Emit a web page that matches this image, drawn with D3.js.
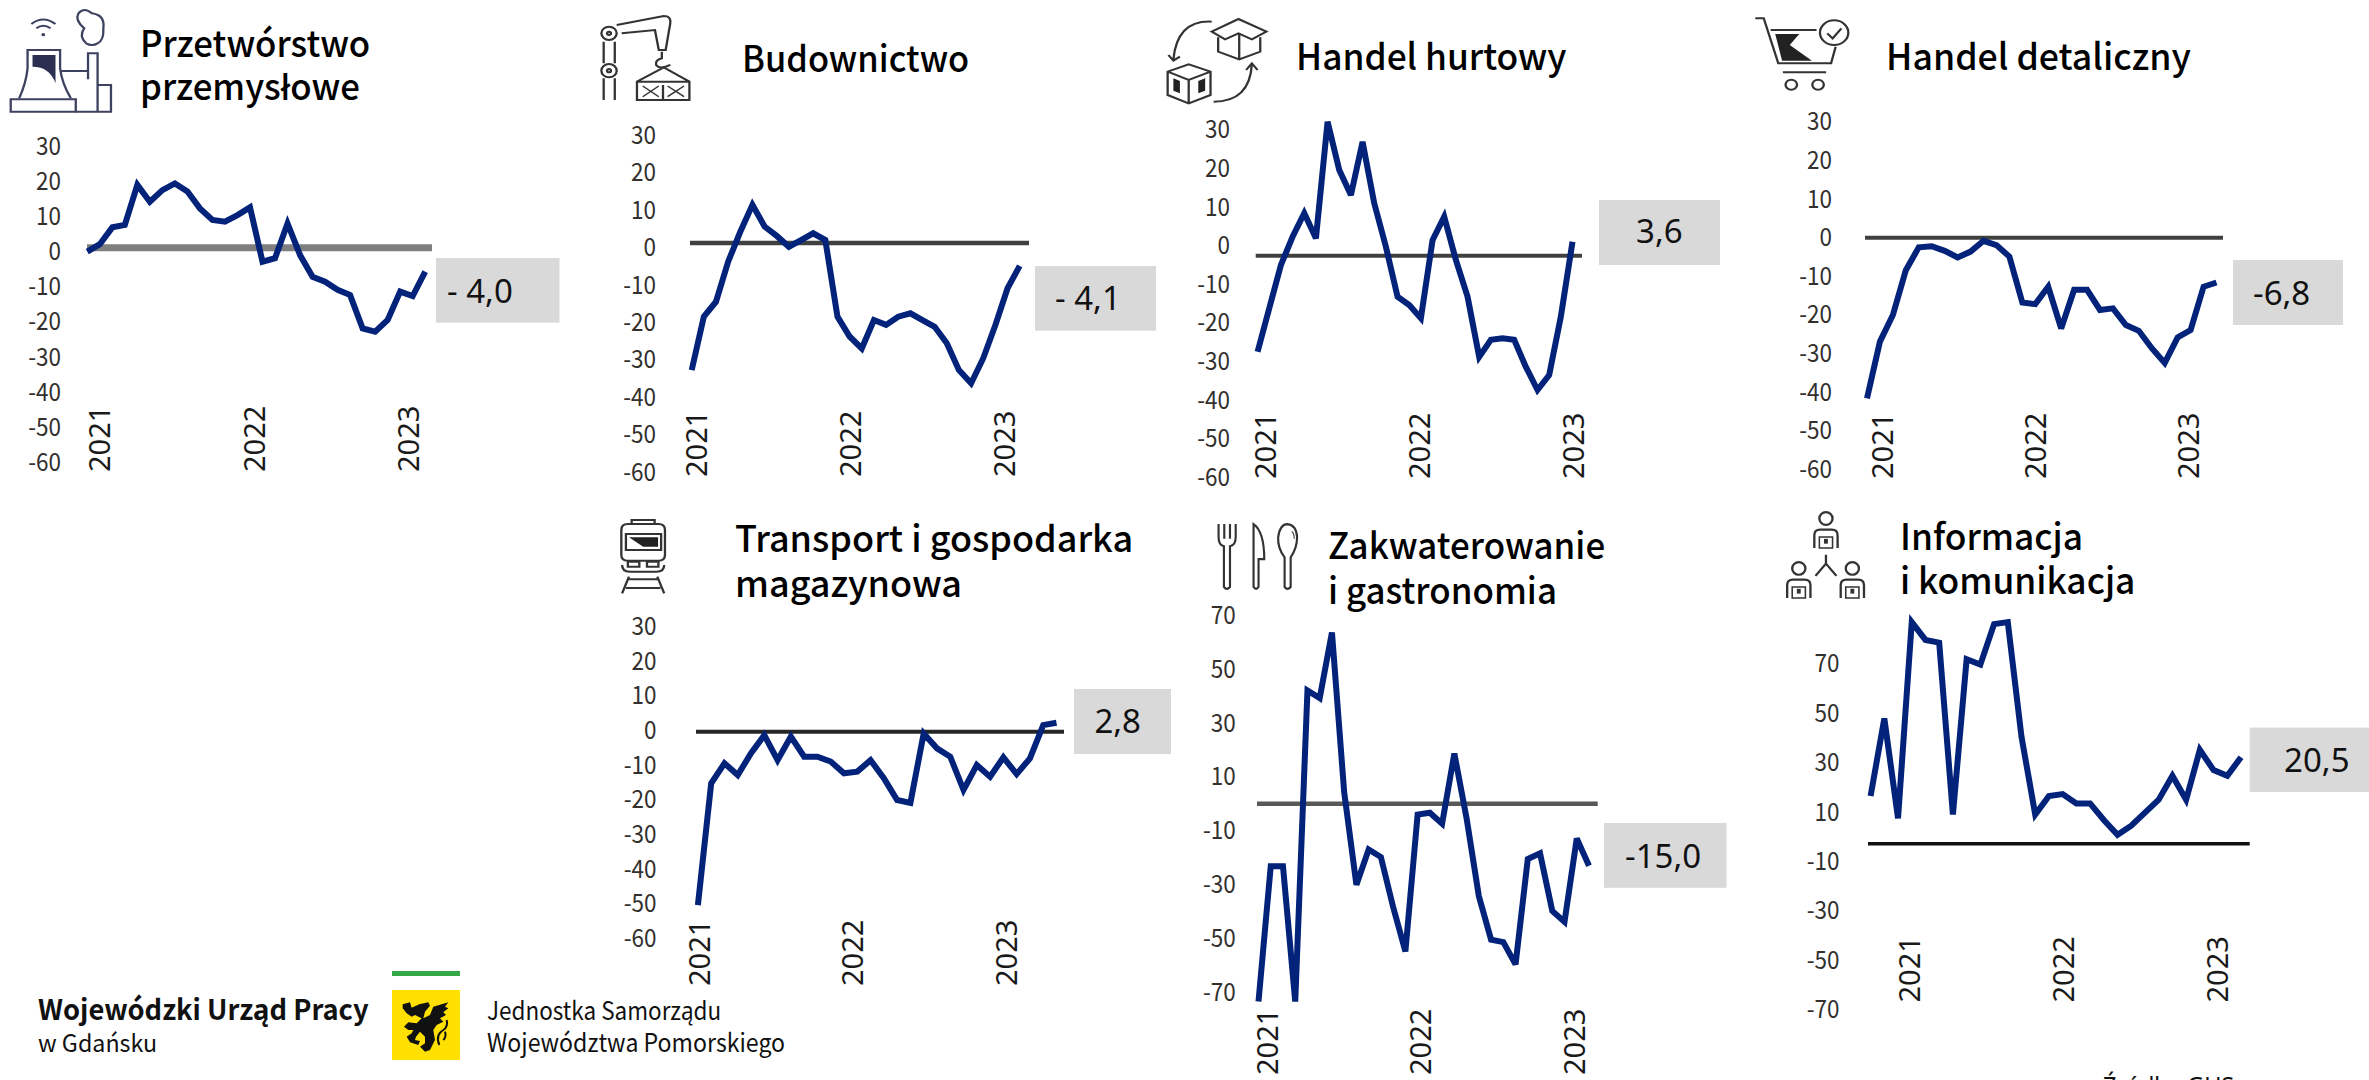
<!DOCTYPE html>
<html lang="pl"><head><meta charset="utf-8">
<script src="https://cdn.jsdelivr.net/npm/d3@7/dist/d3.min.js"></script>
<style>html,body{margin:0;padding:0;background:#fff;overflow:hidden}svg{display:block}</style>
</head><body><svg id="c" width="2369" height="1080"></svg>
<script>
const months = d3.range(28).map(i => { const y = 2021 + Math.floor(i/12), m = i%12 + 1; return y + "-" + String(m).padStart(2,"0"); });
const years = ["2021","2022","2023"];
const ticksA = [30,20,10,0,-10,-20,-30,-40,-50,-60];
const ticksB = [70,50,30,10,-10,-30,-50,-70];

const przetworstwo = [-1.1,1,5.8,6.5,17.9,13.1,16.4,18.3,16,11.2,7.9,7.4,9.3,11.5,-4,-3,6.9,-2.1,-8.3,-9.7,-12,-13.5,-23,-23.9,-20.6,-12.5,-13.8,-6.8];
const budownictwo = [-34,-19.7,-15.7,-5,3,10.2,4.4,1.9,-1,0.8,2.6,0.8,-19.7,-25,-28.2,-20.6,-21.9,-19.7,-18.8,-20.6,-22.4,-26.8,-34,-37.5,-30.8,-21.9,-12.1,-6.1];
const hurtowy = [-24.9,-13.6,-2.4,4.9,11,4.5,34.7,22.2,15.7,29.5,13.6,2.3,-10.6,-12.8,-16.2,4,10.1,-1.1,-10.6,-26.2,-21.8,-21.4,-21.8,-28.8,-34.8,-30.9,-15.8,3.6];
const detaliczny = [-41.6,-26.9,-20,-8.4,-2.5,-2.2,-3.4,-5.1,-3.6,-0.8,-1.9,-4.9,-16.8,-17.2,-12.7,-23.5,-13.5,-13.5,-18.7,-18.3,-22.6,-24.1,-28.6,-32.4,-25.8,-23.9,-12.7,-11.6];
const transport = [-50,-14.9,-9.1,-12.5,-6.2,-1,-8.2,-1.4,-7.2,-7.2,-8.6,-12,-11.5,-8.2,-13.4,-19.7,-20.5,-0.5,-4.8,-7.2,-16.8,-9.6,-13,-7.4,-12.2,-7.7,1.9,2.6];
const zakwaterowanie = [-73.5,-23.2,-23.2,-73.5,42.1,39.3,63.7,4.3,-30.1,-17,-19.8,-38.4,-54.9,-4,-3.3,-7.4,18.7,-5.4,-34.3,-50.5,-51.4,-59.7,-20.5,-18.4,-39.8,-43.9,-12.9,-23];
const informacja = [19.3,50.7,10.3,89.7,82.5,81.4,11.8,74.7,72.5,88.9,89.7,43.3,11.8,19.3,20.1,16.3,16.3,9.6,3.6,7.3,12.6,17.8,27.5,17.8,38,29.8,27.5,35];

const panels = [
 {title:["Przetwórstwo","przemysłowe"],tx:140,tb:[57,100],tsx:.967,values:przetworstwo,ticks:ticksA,label:"- 4,0",
  line:[87.3,425.2],zero:[87,432],y0:247.7,u:3.51,zw:7,zc:"#7f7f7f",tr:61,ts:4,yr:[99.5,407.6],yb:472,box:[436,559.5,258,322.7],lx:447,lb:303,la:"start"},
 {title:["Budownictwo"],tx:742,tb:[72],tsx:.955,values:budownictwo,ticks:ticksA,label:"- 4,1",
  line:[691.7,1019.7],zero:[690,1029],y0:243,u:3.74,zw:4.7,zc:"#404040",tr:656,ts:4.7,yr:[696.3,1004.4],yb:477,box:[1035,1156,266,330.7],lx:1055,lb:310,la:"start"},
 {title:["Handel hurtowy"],tx:1296,tb:[70],tsx:.98,values:hurtowy,ticks:ticksA,label:"3,6",
  line:[1257.6,1572.5],zero:[1255.7,1582],y0:255.7,u:3.86,zw:4,zc:"#404040",tr:1230,ts:-10,yr:[1265.2,1573.3],yb:479,box:[1599,1720,200,265],lx:1659.4,lb:243,la:"middle"},
 {title:["Handel detaliczny"],tx:1886,tb:[70],tsx:.99,values:detaliczny,ticks:ticksA,label:"-6,8",
  line:[1867,2216.5],zero:[1865,2223],y0:237.7,u:3.863,zw:4,zc:"#404040",tr:1832,ts:0,yr:[1881.6,2188.5],yb:479,box:[2233,2343,260,325],lx:2253,lb:305,la:"start"},
 {title:["Transport i gospodarka","magazynowa"],tx:735,tb:[552,597],tsx:1,values:transport,ticks:ticksA,label:"2,8",
  line:[697.9,1056.5],zero:[696,1064],y0:731.7,u:3.47,zw:4,zc:"#262626",tr:656.5,ts:-1.3,yr:[699.4,1005.6],yb:986,box:[1074,1171,689,754],lx:1117.7,lb:733,la:"middle"},
 {title:["Zakwaterowanie","i gastronomia"],tx:1328,tb:[559,604],tsx:.97,values:zakwaterowanie,ticks:ticksB,label:"-15,0",
  line:[1258.5,1589],zero:[1257,1597.7],y0:803.8,u:2.69,zw:4.4,zc:"#595959",tr:1235.7,ts:0,yr:[1266.8,1573.8],yb:1075,box:[1604,1726.6,823,887.8],lx:1625,lb:868,la:"start"},
 {title:["Informacja","i komunikacja"],tx:1900,tb:[550,594],tsx:.98,values:informacja,ticks:ticksB,label:"20,5",
  line:[1870.6,2241],zero:[1868,2249.7],y0:843.7,u:2.47,zw:3.5,zc:"#111",tr:1839.5,ts:-7,yr:[1909.4,2217],yb:1002.5,box:[2249.7,2369,727.6,792],lx:2316.8,lb:772,la:"middle"}
];

const SANS = "'Noto Sans CJK SC','Noto Sans',sans-serif";
const OPEN = "'Noto Sans','Open Sans',sans-serif";
const svg = d3.select("#c");

panels.forEach(p => {
  const g = svg.append("g");
  const x = d3.scalePoint(months, p.line);
  const y = d3.scaleLinear([0,1],[p.y0,p.y0-p.u]);
  const xYears = d3.scalePoint(years, p.yr);

  g.append("rect").attr("x",p.box[0]).attr("y",p.box[2]).attr("width",p.box[1]-p.box[0]).attr("height",p.box[3]-p.box[2]).attr("fill","#d9d9d9");
  g.append("text").attr("x",p.lx).attr("y",p.lb).attr("text-anchor",p.la).attr("font-family",OPEN).attr("font-size",33).attr("fill","#111").text(p.label);

  g.append("line").attr("x1",p.zero[0]).attr("x2",p.zero[1]).attr("y1",y(0)).attr("y2",y(0)).attr("stroke",p.zc).attr("stroke-width",p.zw);

  const ya = g.append("g").attr("transform",`translate(${p.tr},${p.ts})`)
    .call(d3.axisLeft(y).tickValues(p.ticks).tickSize(0).tickPadding(0).tickFormat(d => String(d)));
  ya.select(".domain").remove();
  ya.selectAll("text").attr("font-family",SANS).attr("font-size",25).attr("fill","#33302e").attr("transform","scale(.9,1)");

  const xa = g.append("g").attr("transform",`translate(0,${p.yb})`)
    .call(d3.axisBottom(xYears).tickSize(0).tickPadding(0));
  xa.select(".domain").remove();
  xa.selectAll("text").attr("font-family",OPEN).attr("font-size",29).attr("fill","#1a1a1a")
    .attr("transform","rotate(-90)").attr("x",0).attr("y",0).attr("dy",".36em").attr("text-anchor","start");

  g.append("path").datum(p.values).attr("fill","none").attr("stroke","#03237b").attr("stroke-width",6).attr("stroke-linejoin","miter").attr("stroke-miterlimit",3)
    .attr("d", d3.line().x((d,i)=>x(months[i])).y(d=>y(d)));

  p.title.forEach((t,i)=> g.append("text").attr("transform",`translate(${p.tx},${p.tb[i]}) scale(${p.tsx},1)`).attr("font-family",SANS).attr("font-weight",500).attr("font-size",36).attr("fill","#000").text(t));
});

// ikony
function icon(ox,oy,sx,sy,draw){
  const g = svg.append("g").attr("transform",`translate(${ox},${oy}) scale(${sx},${sy})`)
    .attr("fill","none").attr("stroke","#333").attr("stroke-width",6);
  draw(g);
}
const P=(g,d,f)=>{const e=g.append("path").attr("d",d); if(f) e.attr("fill",f).attr("stroke","none"); return e;};
const C=(g,cx,cy,r)=>g.append("ellipse").attr("cx",cx).attr("cy",cy).attr("rx",r).attr("ry",r);

icon(0,0,.3827,.3333,g=>{ g.attr("stroke","#3c4260");
  P(g,"M50,295 Q68,250 72,205 V150 H157 V205 Q162,250 185,295");
  P(g,"M85,165 H145 V250 Q130,200 85,200 Z","#2b2f52");
  P(g,"M28,298 H198 V335 H28 Z");
  P(g,"M230,238 V160 H255 V335 M160,213 H230 M255,255 H290 V335 H198");
  P(g,"M225,130 Q205,110 220,85 Q195,60 205,40 Q220,20 240,40 Q275,45 270,85 Q272,120 255,130 Q240,140 225,130");
  P(g,"M82,72 Q113,45 145,72 M95,85 Q113,70 132,85");
  P(g,"M113,104 m-5,0 a5,5 0 1 0 10,0 a5,5 0 1 0 -10,0","#3c4260");
});
icon(570,0,.3827,.3333,g=>{
  C(g,102,100,20); C(g,102,212,20); C(g,102,100,5); C(g,102,212,5);
  P(g,"M88,125 V190 M117,125 V190 M88,235 V300 M117,235 V300");
  P(g,"M122,75 L245,48 Q265,48 262,70 L250,150 H232 L222,90 L135,100");
  P(g,"M240,155 V175 Q222,180 225,195 Q235,210 262,195");
  P(g,"M175,245 L245,202 L312,245 V300 H175 Z M175,245 H312 M243,255 V300");
  P(g,"M190,258 L232,290 M232,258 L190,290 M255,258 L298,290 M298,258 L255,290").attr("stroke-width",4);
});
icon(1160,0,.3827,.3333,g=>{
  P(g,"M135,95 L205,57 L278,95 L240,118 L205,100 L170,118 Z");
  P(g,"M152,112 V155 L207,178 L262,155 V112 M207,100 V178");
  P(g,"M20,215 L75,193 L132,215 V285 L75,310 L20,285 Z M20,215 L75,240 L132,215 M75,240 V310");
  P(g,"M35,235 L52,243 V280 L35,272 Z M100,243 L118,235 V272 L100,280 Z","#222");
  P(g,"M135,65 Q45,60 35,178 M22,165 L35,182 L52,170");
  P(g,"M140,305 Q235,305 240,192 M225,210 L240,190 L255,210");
});
icon(1740,0,.3827,.3333,g=>{
  P(g,"M40,55 H62 L100,190 H238 L250,140");
  P(g,"M80,90 H200");
  P(g,"M92,102 H155 L130,135 L188,182 H110 Z","#222");
  P(g,"M112,217 H225");
  C(g,134,254,15); C(g,204,254,15); C(g,246,98,37);
  P(g,"M228,100 L242,115 L265,85");
});
icon(580,500,.3827,.3333,g=>{
  P(g,"M135,72 V60 H195 V72");
  P(g,"M108,90 Q108,72 125,72 H205 Q222,72 222,90 V165 Q222,182 205,182 H125 Q108,182 108,165 Z");
  P(g,"M120,102 H212 V150 H120 Z");
  P(g,"M128,112 H204 V140 H165 Z","#222");
  P(g,"M125,185 H155 V200 H125 Z M175,185 H205 V200 H175 Z");
  P(g,"M110,195 Q110,215 130,215 H200 Q220,215 220,195");
  P(g,"M128,230 L110,280 M202,230 L220,280 M125,238 H205 M120,264 H210");
});
icon(1190,500,.357,.37,g=>{
  P(g,"M80,65 V100 Q80,122 95,125 V235 Q103,245 112,235 V125 Q128,122 128,100 V65 M96,65 V105 M112,65 V105");
  P(g,"M178,65 Q208,85 208,160 H192 V235 Q185,245 178,235 Z");
  P(g,"M265,155 Q245,130 247,100 Q252,65 273,65 Q298,68 300,100 Q300,130 282,155 V235 Q273,245 265,235 Z");
  P(g,"M285,85 Q292,90 292,105").attr("stroke-width",3);
});
icon(1760,500,.388,.37,g=>{
  const person=(cx,cy)=>{
    C(g,cx,cy-80,17);
    P(g,`M${cx-30},${cy} V${cy-35} Q${cx-30},${cy-50} ${cx-15},${cy-50} H${cx+15} Q${cx+30},${cy-50} ${cx+30},${cy-35} V${cy}`);
    P(g,`M${cx-17},${cy} V${cy-30} H${cx+17} V${cy} Z`).attr("stroke-width",4);
    P(g,`M${cx-5},${cy-25} H${cx+5} V${cy-12} H${cx-5} Z`,"#333");
  };
  person(170,130); person(100,265); person(238,265);
  P(g,"M170,148 V172 L143,205 M170,172 L197,205");
});

// stopka
const ft=[["Wojewódzki Urząd Pracy",38,1020,28,700,.975],["w Gdańsku",38,1052,24,400,.97],["Jednostka Samorządu",487,1020,25,400,.9],["Województwa Pomorskiego",487,1052,25,400,.925]];
ft.forEach(f=>svg.append("text").attr("transform",`translate(${f[1]},${f[2]}) scale(${f[5]},1)`).attr("font-family",SANS).attr("font-size",f[3]).attr("font-weight",f[4]).attr("fill","#111").text(f[0]));
svg.append("rect").attr("x",392).attr("y",971).attr("width",68).attr("height",5).attr("fill","#33a845");
svg.append("rect").attr("x",392).attr("y",990).attr("width",68).attr("height",70).attr("fill","#ffe000");
svg.append("g").attr("transform","translate(380,965) scale(.3333)").call(g=>{
  g.append("path").attr("fill","#111").attr("d","M68,118 L90,112 L95,128 L118,118 L145,112 L150,122 L135,140 L130,160 L150,150 L160,125 L205,112 L195,125 L205,130 L190,142 L198,150 L180,160 L190,170 L170,180 L160,195 L165,225 L150,255 L135,260 L120,245 L135,235 L135,215 L120,200 L108,215 L105,225 L120,228 L115,240 L90,232 L80,215 L95,205 L100,195 L85,195 L72,185 L85,172 L110,175 L125,160 L105,150 L95,155 L80,145 L68,130 Z");
  g.append("path").attr("fill","none").attr("stroke","#111").attr("stroke-width",6).attr("d","M178,240 Q165,210 190,195 Q205,185 200,165 M190,225 Q200,215 195,200");
});
svg.append("text").attr("x",2103).attr("y",1094).attr("font-family",OPEN).attr("font-size",23.5).attr("fill","#111").text("Źródło: GUS");
</script></body></html>
